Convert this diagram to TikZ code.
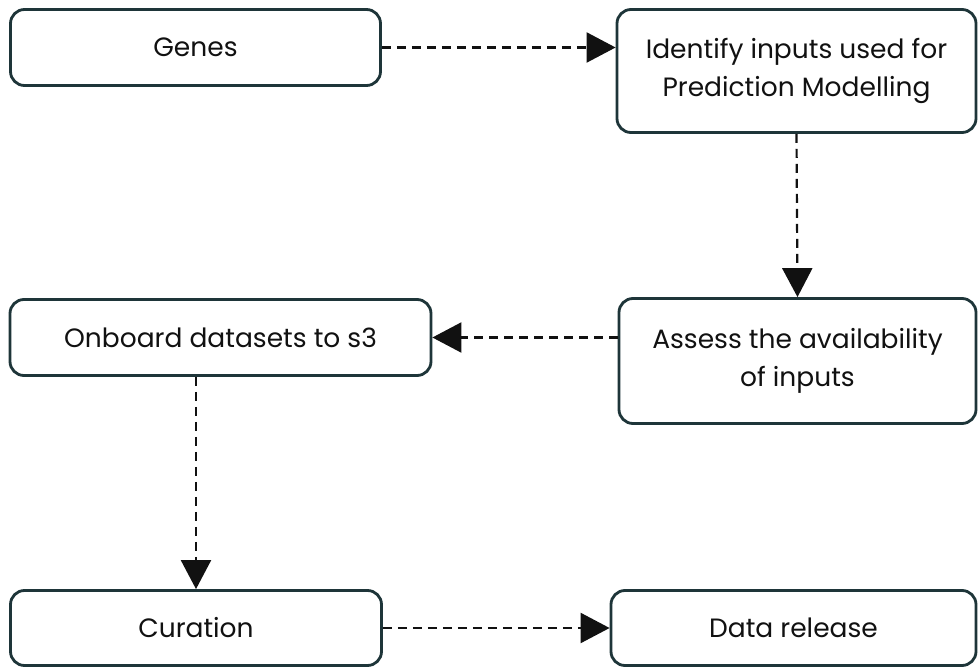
\documentclass[tikz,border=0pt]{standalone}
\usepackage{fontspec}
\setmainfont{Poppins}
\usetikzlibrary{arrows.meta,calc}
\definecolor{boxline}{HTML}{1E3539}
\definecolor{ink}{HTML}{111111}
\tikzset{
  stepbox/.style={draw=boxline, line width=2.8pt, rounded corners=14pt, fill=white,
    text=ink, font=\fontsize{26.5}{38}\selectfont, align=center, inner sep=0pt},
  flow/.style={draw=ink, line width=2.2pt, dash pattern=on 9pt off 6pt,
    -{Triangle[length=29pt,width=30pt]}},
}
\begin{document}
\begin{tikzpicture}[x=1pt,y=-1pt]
\useasboundingbox (0,0) rectangle (978,668);
% boxes, given by their centres and sizes
\node[stepbox, minimum width=370pt, minimum height=76pt] (genes) at (195.5,47.5) {Genes};
\node[stepbox, minimum width=359pt, minimum height=123pt] (ident) at (796.5,71) {Identify inputs used for\\Prediction Modelling};
\node[stepbox, minimum width=357pt, minimum height=125pt] (assess) at (797.5,361) {Assess the availability\\of inputs};
\node[stepbox, minimum width=421pt, minimum height=76pt] (onboard) at (220.5,337.5) {Onboard datasets to s3};
\node[stepbox, minimum width=371pt, minimum height=75pt] (cur) at (196,628) {Curation};
\node[stepbox, minimum width=365pt, minimum height=75pt] (rel) at (793.5,628) {Data release};
% connectors
\draw[flow] (genes.east) -- (genes.east -| ident.west);
\draw[flow] (ident.south) -- (assess.north);
\draw[flow] (assess.west |- onboard.east) -- (onboard.east);
\draw[flow] (onboard.south -| cur.north) -- (cur.north);
\draw[flow] (cur.east) -- (rel.west);
\end{tikzpicture}
\end{document}
